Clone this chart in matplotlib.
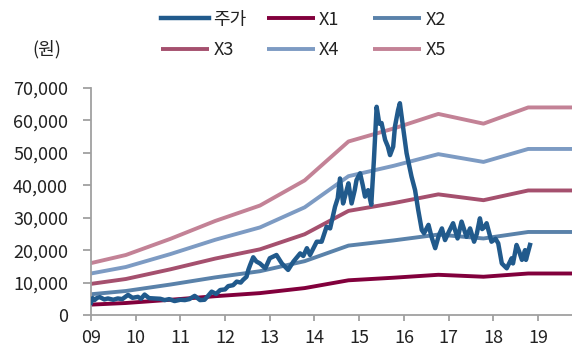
import matplotlib
matplotlib.use("Agg")
import matplotlib.pyplot as plt
from matplotlib.ticker import FixedLocator, FuncFormatter

plt.rcParams['font.family'] = ['Noto Sans CJK KR', 'DejaVu Sans']

# Stock price (원), fractional years
price_t = [2009.00, 2009.04, 2009.08, 2009.14, 2009.20, 2009.30, 2009.38, 2009.50, 2009.60, 2009.70,
           2009.83, 2009.93, 2010.05, 2010.12, 2010.20, 2010.30, 2010.42, 2010.55, 2010.65, 2010.75,
           2010.87, 2011.00, 2011.10, 2011.20, 2011.32, 2011.44, 2011.54, 2011.62, 2011.70, 2011.80,
           2011.89, 2012.00, 2012.07, 2012.18, 2012.26, 2012.35, 2012.40, 2012.48, 2012.52, 2012.56,
           2012.63, 2012.70, 2012.78, 2012.90, 2013.00, 2013.15, 2013.27, 2013.41, 2013.53, 2013.68,
           2013.75, 2013.83, 2013.90, 2014.05, 2014.16, 2014.27, 2014.35, 2014.46, 2014.52, 2014.57,
           2014.64, 2014.70, 2014.76, 2014.83, 2014.90, 2014.94, 2015.02, 2015.08, 2015.13, 2015.20,
           2015.27, 2015.33, 2015.39, 2015.45, 2015.50, 2015.58, 2015.64, 2015.69, 2015.76, 2015.80,
           2015.87, 2015.91, 2015.99, 2016.06, 2016.17, 2016.25, 2016.32, 2016.40, 2016.45, 2016.55,
           2016.62, 2016.70, 2016.78, 2016.85, 2016.92, 2017.00, 2017.10, 2017.20, 2017.29, 2017.40,
           2017.48, 2017.57, 2017.63, 2017.70, 2017.75, 2017.81, 2017.85, 2017.96, 2018.05, 2018.11,
           2018.19, 2018.30, 2018.41, 2018.44, 2018.52, 2018.58, 2018.64, 2018.71, 2018.73, 2018.82]
price_v = [3800, 5200, 4600, 5300, 5500, 4800, 5100, 4700, 5100, 4900,
           6200, 5300, 5600, 5000, 6300, 5200, 5100, 5000, 4600, 4900,
           4300, 4700, 4600, 4900, 5900, 4600, 4700, 5900, 7200, 6500,
           7700, 7900, 8900, 9200, 10300, 10000, 10800, 11800, 13900, 15400,
           17800, 16500, 15900, 14400, 17500, 18500, 15900, 13900, 16500, 19000,
           18200, 20600, 18500, 22600, 22600, 27200, 26700, 33400, 36000, 42100,
           34400, 37500, 40600, 34400, 38500, 41600, 43700, 40000, 36500, 38500,
           34000, 48000, 64200, 59000, 59200, 54000, 52000, 49300, 51900, 58100,
           63200, 65300, 57000, 49900, 42700, 38500, 32400, 26200, 25200, 27800,
           24000, 20600, 24500, 26700, 23100, 25500, 28300, 23600, 28800, 24100,
           26700, 22600, 25000, 29800, 26500, 27200, 28300, 22600, 23500, 22100,
           15900, 14400, 17500, 15900, 21600, 19500, 17000, 20000, 17000, 21600]

# Band base (X1) at each annual reset, and band multiples
band_t = [2009.00, 2009.78, 2010.78, 2011.78, 2012.78, 2013.78, 2014.76, 2015.77,
          2016.77, 2017.78, 2018.78, 2019.76]
band_base = [3200, 3700, 4700, 5800, 6750, 8300, 10700, 11500, 12400, 11800, 12800, 12800]
multiples = [1, 2, 3, 4, 5]
band_labels = ['X1', 'X2', 'X3', 'X4', 'X5']

year_ticks = list(range(2009, 2020))
year_labels = ['09', '10', '11', '12', '13', '14', '15', '16', '17', '18', '19']
y_ticks = [0, 10000, 20000, 30000, 40000, 50000, 60000, 70000]

price_color = '#215A8C'
band_colors = ['#82003C', '#5A82AA', '#A5506E', '#7D9BC3', '#C38296']

fig = plt.figure(figsize=(5.72, 3.49), dpi=100)
ax = fig.add_axes([0.159, 0.0974, 0.841, 0.6505])

handles = {}
for m, lab, c in zip(multiples, band_labels, band_colors):
    handles[lab], = ax.plot(band_t, [m * b for b in band_base], color=c, lw=2.8,
                            solid_capstyle='butt', zorder=2)
handles['주가'], = ax.plot(price_t, price_v, color=price_color, lw=3.2,
                          solid_joinstyle='round', zorder=3)

ax.set_xlim(2009, 2019.76)
ax.set_ylim(0, 70000)
ax.xaxis.set_major_locator(FixedLocator(year_ticks))
ax.set_xticklabels(year_labels)
ax.yaxis.set_major_locator(FixedLocator(y_ticks))
ax.yaxis.set_major_formatter(FuncFormatter(lambda v, p: f'{int(v):,}'))

for s in ['top', 'right']:
    ax.spines[s].set_visible(False)
for s in ['left', 'bottom']:
    ax.spines[s].set_color('#A0A0A0')
    ax.spines[s].set_linewidth(1.3)
ax.tick_params(axis='y', length=5.5, width=1.3, color='#A0A0A0', pad=11, labelsize=13,
               labelcolor='#222222')
ax.tick_params(axis='x', length=4, width=1.3, color='#A0A0A0', pad=6, labelsize=13,
               labelcolor='#222222')

fig.text(0.056, 0.859, '(원)', fontsize=13, color='#222222', va='center', ha='left')

# Legend: three columns of two entries each
columns = [['주가', 'X3'], ['X1', 'X4'], ['X2', 'X5']]
col_x = [0.272, 0.457, 0.643]
for xs, names in zip(col_x, columns):
    leg = fig.legend([handles[n] for n in names], names, loc='upper left',
                     bbox_to_anchor=(xs, 0.985), frameon=False, fontsize=13,
                     handlelength=2.65, handletextpad=0.25, labelspacing=0.7,
                     borderaxespad=0, borderpad=0.3)
    for t in leg.get_texts():
        t.set_color('#222222')

fig.savefig('out.png', dpi=100)
